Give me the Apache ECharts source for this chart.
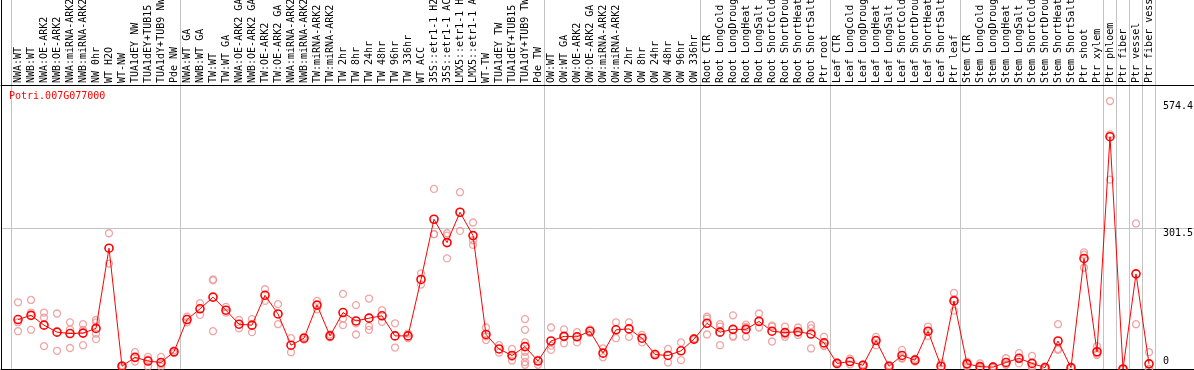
<!DOCTYPE html>
<html>
<head>
<meta charset="utf-8">
<script src="https://cdn.jsdelivr.net/npm/echarts@6/dist/echarts.min.js"></script>
<style>
  html, body { margin: 0; padding: 0; background: #fff; }
  #chart { width: 1194px; height: 370px; }
</style>
</head>
<body>
<div id="chart"></div>
<script>
var geneName = 'Potri.007G077000'

var categories = [
  'NWA:WT', 'NWB:WT', 'NWA:OE-ARK2', 'NWB:OE-ARK2', 'NWA:miRNA-ARK2', 'NWB:miRNA-ARK2',
  'NW 0hr', 'WT H2O', 'WT-NW', 'TUA1dEY NW', 'TUA1dEY+TUB15 NW', 'TUA1dY+TUB9 NW', 'Pde NW',
  'NWA:WT GA', 'NWB:WT GA', 'TW:WT', 'TW:WT GA', 'NWA:OE-ARK2 GA', 'NWB:OE-ARK2 GA',
  'TW:OE-ARK2', 'TW:OE-ARK2 GA', 'NWA:miRNA-ARK2 GA', 'NWB:miRNA-ARK2 GA', 'TW:miRNA-ARK2',
  'TW:miRNA-ARK2 GA', 'TW 2hr', 'TW 8hr', 'TW 24hr', 'TW 48hr', 'TW 96hr', 'TW 336hr',
  'WT ACC', '35S::etr1-1 H2O', '35S::etr1-1 ACC', 'LMX5::etr1-1 H2O', 'LMX5::etr1-1 ACC',
  'WT-TW', 'TUA1dEY TW', 'TUA1dEY+TUB15 TW', 'TUA1dY+TUB9 TW', 'Pde TW',
  'OW:WT', 'OW:WT GA', 'OW:OE-ARK2', 'OW:OE-ARK2 GA', 'OW:miRNA-ARK2', 'OW:miRNA-ARK2 GA',
  'OW 2hr', 'OW 8hr', 'OW 24hr', 'OW 48hr', 'OW 96hr', 'OW 336hr',
  'Root CTR', 'Root LongCold', 'Root LongDrought', 'Root LongHeat', 'Root LongSalt',
  'Root ShortCold', 'Root ShortDrought', 'Root ShortHeat', 'Root ShortSalt', 'Ptr root',
  'Leaf CTR', 'Leaf LongCold', 'Leaf LongDrought', 'Leaf LongHeat', 'Leaf LongSalt',
  'Leaf ShortCold', 'Leaf ShortDrought', 'Leaf ShortHeat', 'Leaf ShortSalt', 'Ptr leaf',
  'Stem CTR', 'Stem LongCold', 'Stem LongDrought', 'Stem LongHeat', 'Stem LongSalt',
  'Stem ShortCold', 'Stem ShortDrought', 'Stem ShortHeat', 'Stem ShortSalt',
  'Ptr shoot', 'Ptr xylem', 'Ptr phloem', 'Ptr fiber', 'Ptr vessel', 'Ptr fiber vessel'
]

// number of samples in each block, separated by a grey line
var sectionSizes = [13, 28, 12, 10, 10, 11, 1, 1, 1, 1]

var means = [
  106, 115, 94, 79, 76, 77, 87, 259, 6, 25, 17, 14, 37,
  106, 129, 154, 126, 96, 94, 158, 118, 51, 66, 137, 71, 121, 103, 109, 114, 71, 71,
  192, 321, 271, 336, 286, 74, 43, 29, 48, 17,
  60, 70, 69, 81, 34, 84, 86, 66, 31, 29, 39, 64,
  98, 79, 85, 85, 102, 81, 78, 80, 75, 56,
  12, 16, 8, 61, 6, 29, 19, 81, 6, 146,
  11, 5, 4, 14, 23, 12, 3, 60, 3, 237, 37,
  498, 0, 204, 11
]

var reps = [
  [143, 100, 81], [148, 121, 84], [121, 110, 49], [119, 39], [100, 85, 45], [96, 84, 51],
  [105, 100, 76, 64], [291, 226], [8, 4], [36, 16], [26, 20, 5], [26, 10, 5], [40, 34],
  [112, 100], [141, 116], [192, 190, 81], [133, 121], [105, 87], [107, 79], [171, 146],
  [139, 96], [66, 36], [69, 63], [146, 128], [74, 68], [161, 108, 94], [137, 98, 74],
  [151, 92, 84], [126, 101], [98, 46], [76, 66],
  [205, 181], [386, 289, 289], [291, 286, 237], [379, 296], [314, 276, 266], [89, 70, 62],
  [51, 35], [43, 26, 18], [107, 84, 57, 37, 26, 15, 9], [20, 9],
  [89, 50, 41], [85, 70, 55], [79, 69, 57], [85, 77], [44, 25], [100, 66], [100, 69],
  [73, 57], [33, 29], [43, 14], [57, 19], [66, 62],
  [112, 108, 74], [96, 91, 51], [115, 71, 69], [95, 90, 69], [119, 89], [93, 91, 59],
  [91, 74, 69], [89, 78, 73], [94, 87, 44], [69, 50, 49],
  [14, 10], [22, 10], [10, 6], [69, 61, 51], [8, 4], [41, 23, 23], [22, 16], [91, 81, 71],
  [12, 0], [163, 150, 125],
  [16, 10, 6], [12, 3, 0], [6, 2], [23, 10, 9], [34, 23, 12], [28, 6, 2], [5, 1],
  [96, 43, 41], [4, 2], [250, 245, 217], [49, 33, 30],
  [574.4, 503, 406], [0, 0], [312, 96], [36, 0, 0]
]

var yTickLabels = [301.5, 574.4]
var yGridValues = [301.5]
var yZeroLabel = [0]

var yMax = 791
var font = 'DejaVu Sans Mono'

var sectionStarts = []
var acc = 0
sectionSizes.forEach(function (n) {
  sectionStarts.push(acc)
  acc += n
})

var repData = []
reps.forEach(function (list, i) {
  list.forEach(function (v) {
    repData.push([i, v])
  })
})

var myChart = echarts.init(document.getElementById('chart'))

var hiddenValueX = function (grid, pos, offset) {
  return {
    type: 'value', gridIndex: grid, position: pos, offset: offset || 0, min: 0, max: 1,
    axisLine: { show: true, onZero: false, lineStyle: { color: '#000', width: 1 } },
    axisTick: { show: false }, axisLabel: { show: false }, splitLine: { show: false }
  }
}

var option = {
  animation: false,
  backgroundColor: '#fff',
  title: {
    text: geneName,
    left: 9,
    top: 91,
    padding: 0,
    textStyle: { color: '#ff0000', fontSize: 10, fontFamily: font, fontWeight: 'normal' }
  },
  grid: [
    { left: 1, right: 0, top: 0, bottom: 1, outerBoundsMode: 'none' },
    { left: 11.5, right: 38.5, top: 0, bottom: 1, outerBoundsMode: 'none' },
    { left: 11.5, right: 38.5, top: 0, height: 85, outerBoundsMode: 'none' }
  ],
  xAxis: [
    hiddenValueX(0, 'bottom'),
    hiddenValueX(0, 'top', -85),
    {
      type: 'category', gridIndex: 1, data: categories,
      axisLine: { show: false }, axisTick: { show: false }, axisLabel: { show: false },
      splitLine: {
        show: true,
        interval: function (index) { return sectionStarts.indexOf(index) >= 0 },
        lineStyle: { color: '#c4c4c4', width: 1 }
      }
    },
    {
      type: 'category', gridIndex: 2, data: categories, position: 'bottom',
      axisLine: { show: false }, axisTick: { show: false }, splitLine: { show: false },
      axisLabel: {
        show: true, inside: true, rotate: 90, interval: 0, margin: 2,
        color: '#000', fontSize: 10, fontFamily: font
      }
    }
  ],
  yAxis: [
    {
      type: 'value', gridIndex: 0, position: 'right', min: 0, max: yMax,
      axisLine: { show: false },
      axisTick: { show: false, customValues: yGridValues },
      splitLine: { show: true, lineStyle: { color: '#c4c4c4', width: 1 } },
      axisLabel: {
        show: true, inside: true, margin: 31, align: 'left', verticalAlign: 'top',
        customValues: yTickLabels, color: '#000', fontSize: 10, fontFamily: font
      }
    },
    {
      type: 'value', gridIndex: 0, position: 'right', min: 0, max: yMax,
      axisLine: { show: false }, axisTick: { show: false }, splitLine: { show: false },
      axisLabel: {
        show: true, inside: true, margin: 31, align: 'left', verticalAlign: 'bottom',
        padding: [0, 0, 3, 0],
        customValues: yZeroLabel, color: '#000', fontSize: 10, fontFamily: font
      }
    },
    {
      type: 'value', gridIndex: 0, position: 'left', min: 0, max: yMax,
      axisLine: { show: true, onZero: false, lineStyle: { color: '#000', width: 1 } },
      axisTick: { show: false }, axisLabel: { show: false }, splitLine: { show: false }
    },
    { type: 'value', gridIndex: 1, min: 0, max: yMax, show: false },
    { type: 'value', gridIndex: 2, min: 0, max: 1, show: false }
  ],
  series: [
    {
      name: 'replicates',
      type: 'scatter',
      xAxisIndex: 2,
      yAxisIndex: 3,
      symbol: 'circle',
      symbolSize: 7,
      z: 2,
      itemStyle: { color: 'rgba(0,0,0,0)', borderColor: '#ee9090', borderWidth: 1.3 },
      data: repData
    },
    {
      name: geneName,
      type: 'line',
      xAxisIndex: 2,
      yAxisIndex: 3,
      symbol: 'circle',
      symbolSize: 8,
      showAllSymbol: true,
      z: 3,
      lineStyle: { color: '#ff0000', width: 1 },
      itemStyle: { color: 'rgba(0,0,0,0)', borderColor: '#ff0000', borderWidth: 1.6 },
      data: means
    }
  ]
}

myChart.setOption(option)
</script>
</body>
</html>
